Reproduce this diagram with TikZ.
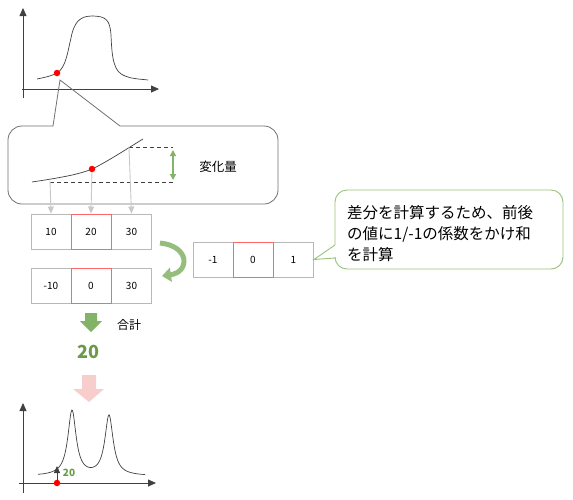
\documentclass[tikz,border=0pt]{standalone}
\usepackage{fontspec}
\setmainfont{Noto Sans CJK JP}
\usetikzlibrary{arrows.meta}
\definecolor{axisgray}{HTML}{404040}
\definecolor{boxgray}{HTML}{B8B8B8}
\definecolor{cellred}{HTML}{FF6666}
\definecolor{lightgray}{HTML}{C8C8C8}
\definecolor{zoomgray}{HTML}{707070}
\definecolor{leafgreen}{HTML}{82B366}
\definecolor{textgreen}{HTML}{6A9A4A}
\definecolor{bubblegreen}{HTML}{97C27A}
\definecolor{pinkarrow}{HTML}{F8CECC}

\begin{document}
\begin{tikzpicture}[x=1pt,y=-1pt,
	cell/.style={draw=boxgray,line width=.9pt,minimum width=40pt,minimum height=35pt,inner sep=0pt,font=\fontsize{10}{12}\selectfont},
	redcell/.style={cell,draw=cellred,line width=1pt},
	axis/.style={axisgray,line width=.8pt,-{Triangle[length=8pt,width=7pt]}},
	curve/.style={axisgray,line width=.7pt},
	dot/.style={circle,fill=red,inner sep=0pt,minimum size=6.5pt},
	drop/.style={lightgray,line width=.9pt,-{Triangle[length=7pt,width=6pt]}}]
	\useasboundingbox (0,0) rectangle (573,499);
	
	\draw[axis] (23,98) -- (23,8); \draw[axis] (22,89) -- (159,89);
	\draw[curve] (37,79) .. controls (47,77) and (54,75) .. (57,73) .. controls (66,68) and (68,50) .. (71,38) .. controls (74,22) and (80,16) .. (92,16) .. controls (106,16) and (110,20) .. (111,35) .. controls (112,60) and (114,72) .. (125,76) .. controls (132,79) and (140,79) .. (148,80);
	\node[dot] (top) at (57,73) {};
	
	\draw[zoomgray,line width=.8pt] (53,126) -- (60,80) -- (120,126) [rounded corners=14pt] -- (278,126) -- (278,204) -- (8,204) -- (8,126) [sharp corners] -- cycle;
	
	\draw[curve] (32,182) .. controls (65,177) and (80,174) .. (92,169) .. controls (105,163) and (125,150) .. (143,139);
	\coordinate (p1) at (50,180.5); \coordinate (p3) at (129,147);
	\draw[curve,dash pattern=on 4pt off 3pt] (50,182) -- (173,182);
	\draw[curve,dash pattern=on 4pt off 3pt] (p3) -- (173,147);
	\draw[leafgreen,line width=1.3pt,{Triangle[length=6pt,width=6pt]}-{Triangle[length=6pt,width=6pt]}] (173,150) -- (173,180);
	\node[font=\fontsize{12.5}{14}\selectfont] (diff) at (218,167) {変化量};
	
	\node[cell] (in1) at (51,231.5) {10};
	\node[cell] (in3) at (131.5,231.5) {30};
	\node[redcell] (in2) at (91,231.5) {20};
	\node[cell] (out1) at (51,285.5) {-10};
	\node[cell] (out3) at (131.5,285.5) {30};
	\node[redcell] (out2) at (91,285.5) {0};
	\node[cell] (k1) at (213,259.5) {-1};
	\node[cell] (k3) at (293.5,259.5) {1};
	\node[redcell] (k2) at (253,259.5) {0};
	
	\node[dot] (mid) at (92,169) {};
	\draw[drop] (p1) -- (in1.north); \draw[drop] (mid) -- (in2.north); \draw[drop] (p3) -- (in3.north);
	
	\coordinate (c1) at (160,243); \coordinate (c2) at (162,276);
	\draw[leafgreen!85,line width=5pt,-{Triangle[length=9pt,width=14pt]}] (c1) .. controls (190,246) and (190,272) .. (c2);
	
	\draw[bubblegreen,line width=.9pt] (k3.east) -- (335,245) [rounded corners=12pt] -- (335,190) -- (563,190) -- (563,269) -- (335,269) [sharp corners] -- (335,258) -- cycle;
	\node[anchor=west,align=left,inner sep=0pt,font=\fontsize{15.5}{21}\selectfont] (note) at (347,233.5) {差分を計算するため、前後\\の値に1/-1の係数をかけ和\\を計算};
	
	\fill[leafgreen] (85,313) -- (97,313) -- (97,321) -- (102,321) -- (91,332) -- (80,321) -- (85,321) -- cycle;
	\node[font=\fontsize{12}{14}\selectfont] (sum) at (129,325) {合計};
	\node[font=\fontsize{18}{20}\selectfont\bfseries,text=textgreen] (total) at (88,352) {20};
	\fill[pinkarrow] (82,375) -- (96,375) -- (96,389) -- (104,389) -- (89,402) -- (73,389) -- (82,389) -- cycle;
	
	\draw[axis] (23,493) -- (23,403); \draw[axis] (19,483) -- (156,483);
	\draw[curve] plot[domain=38:145,samples=150,smooth] (\x,{476-65/(1+((\x-72)/5)^2)-60/(1+((\x-109)/5)^2)});
	\node[dot] (z) at (57,483) {};
	\coordinate (zt) at (57,466);
	\draw[axisgray,line width=.8pt,-{Triangle[length=7pt,width=6pt]}] (z.center) -- (zt);
	\node[font=\fontsize{10}{12}\selectfont\bfseries,text=textgreen] (zl) at (69,473) {20};
\end{tikzpicture}
\end{document}
